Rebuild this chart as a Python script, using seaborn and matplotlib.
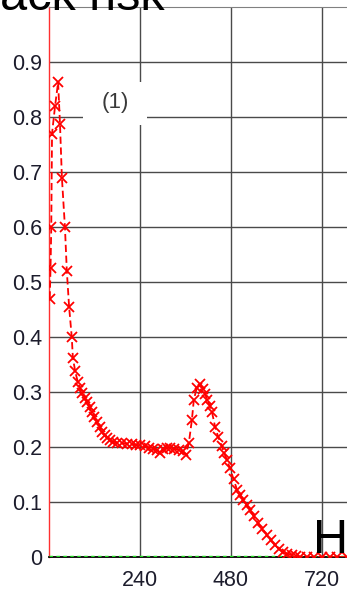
"""
Attack-risk curve (red, dashed with x markers) against hours,
plus the flat green reference series at zero.
Saves out.png at 347x592 px.
"""
import numpy as np
import matplotlib
matplotlib.use("Agg")
import matplotlib.pyplot as plt
from matplotlib.patches import Rectangle
from matplotlib.ticker import MultipleLocator, FixedLocator
import seaborn as sns

# values
hours = [2, 4, 6, 8, 16, 24, 29, 34, 42, 47, 53, 60, 63, 69, 76, 82, 87, 94,
         100, 107, 113, 120, 127, 134, 140, 147, 153, 161, 169, 180, 192, 206,
         218, 230, 240, 252, 263, 274, 285, 293, 300, 310, 319, 330, 342, 353,
         361, 369, 377, 382, 390, 398, 406, 412, 417, 424, 430, 438, 446, 456,
         462, 469, 477, 487, 496, 504, 512, 521, 530, 540, 551, 563, 575, 585,
         596, 606, 617, 629, 641, 652, 662, 680, 700, 720, 740, 760, 786]
risk = [0.47, 0.525, 0.60, 0.77, 0.82, 0.863, 0.787, 0.69, 0.60, 0.52, 0.455,
        0.40, 0.362, 0.338, 0.318, 0.307, 0.299, 0.290, 0.281, 0.272, 0.263,
        0.254, 0.245, 0.236, 0.228, 0.221, 0.217, 0.212, 0.210, 0.208, 0.207,
        0.206, 0.205, 0.204, 0.203, 0.201, 0.199, 0.197, 0.195, 0.190, 0.196,
        0.199, 0.199, 0.197, 0.195, 0.192, 0.186, 0.208, 0.250, 0.286, 0.308,
        0.314, 0.305, 0.296, 0.286, 0.275, 0.263, 0.237, 0.219, 0.201, 0.189,
        0.177, 0.162, 0.141, 0.122, 0.113, 0.104, 0.095, 0.086, 0.074, 0.062,
        0.051, 0.040, 0.031, 0.022, 0.015, 0.009, 0.006, 0.004, 0.002, 0.0,
        0.0, 0.0, 0.0, 0.0, 0.0, 0.0]
base_hours = [0, 786]
base_risk = [0.0, 0.0]

y_ticks = [0, 0.1, 0.2, 0.3, 0.4, 0.5, 0.6, 0.7, 0.8, 0.9]
y_labels = ["0", "0.1", "0.2", "0.3", "0.4", "0.5", "0.6", "0.7", "0.8", "0.9"]
x_ticks = [240, 480, 720]
x_minor = [120, 360, 600]

sns.set_style("white")
plt.rcParams["font.family"] = ["Liberation Sans", "DejaVu Sans"]

fig = plt.figure(figsize=(3.47, 5.92), dpi=100)
ax = fig.add_axes([49 / 347, 35 / 592, 298 / 347, 550 / 592])

sns.lineplot(x=base_hours, y=base_risk, ax=ax, color="#22dd22",
             linestyle=(0, (1, 1)), linewidth=2.5, zorder=3)
sns.lineplot(x=hours, y=risk, ax=ax, sort=False, color="red",
             linestyle=(0, (4, 2)), linewidth=1.3, marker="x",
             markersize=7, markeredgewidth=1.3, markeredgecolor="red",
             zorder=4)

ax.set_xlim(0, 786)
ax.set_ylim(0, 1.0)
ax.set_xlabel("")
ax.set_ylabel("")

ax.set_yticks(y_ticks)
ax.set_yticklabels(y_labels)
ax.set_xticks(x_ticks)
ax.set_xticklabels([str(t) for t in x_ticks])
ax.yaxis.set_minor_locator(MultipleLocator(0.1, offset=0.05))
ax.xaxis.set_minor_locator(FixedLocator(x_minor))

ax.tick_params(axis="both", which="major", length=0, labelsize=15.5,
               labelcolor="#1c1c2c")
ax.tick_params(axis="y", which="major", pad=5)
ax.tick_params(axis="x", which="major", pad=9)
ax.tick_params(axis="y", which="minor", direction="in", length=9.5,
               width=1, color="black")
ax.tick_params(axis="x", which="minor", direction="in", length=6.5,
               width=1, color="black")

ax.grid(True, which="major", color="#4a4a4a", linewidth=1)
ax.set_axisbelow(True)

ax.spines["left"].set_color("#ff3030")
ax.spines["left"].set_linewidth(1)
ax.spines["bottom"].set_color("black")
ax.spines["bottom"].set_linewidth(1.3)
ax.spines["top"].set_color("#808080")
ax.spines["right"].set_visible(False)

# "(1)" label on a white box
ax.add_patch(Rectangle((0.114, 0.785), 0.215, 0.079, transform=ax.transAxes,
                       facecolor="white", edgecolor="none", zorder=2.5))
ax.text(0.221, 0.826, "(1)", transform=ax.transAxes, ha="center",
        va="center", fontsize=16, color="#3a3a3a", zorder=5)

# large texts cropped by the figure edges, as in the reference
fig.text(0.0, 1 - 10 / 592, "ack risk", fontsize=35, va="baseline",
         ha="left", color="black")
fig.text(313 / 347, 1 - 553 / 592, "Hours", fontsize=35, va="baseline",
         ha="left", color="black", zorder=10)

fig.savefig("out.png", dpi=100)
